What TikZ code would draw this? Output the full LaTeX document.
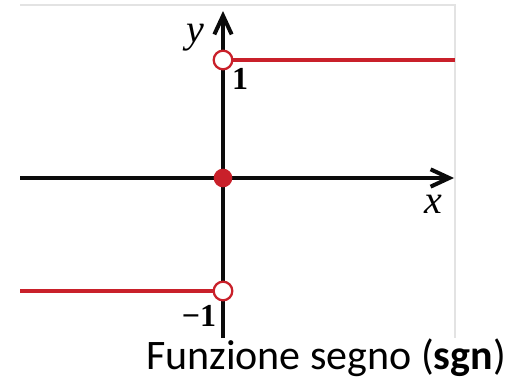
\documentclass[tikz,border=0pt]{standalone}
\usepackage{fontspec}
\setmainfont{Liberation Serif}
\newfontfamily\captionfont{Carlito}
\usetikzlibrary{positioning,arrows.meta}
\definecolor{ink}{HTML}{0B0B0B}
\definecolor{signred}{HTML}{C9202A}
\definecolor{framegray}{HTML}{E3E3E3}

\begin{document}
\begin{tikzpicture}[x=0.75pt, y=-0.75pt,
      axis/.style={line width=3pt, color=ink,
                   -{Straight Barb[length=14pt, width=13pt]}},
      branch/.style={line width=2.6pt, color=signred},
      hole/.style={circle, draw=signred, fill=white, line width=1.7pt,
                   minimum size=14pt, inner sep=0pt},
      dot/.style={circle, fill=signred, minimum size=14pt, inner sep=0pt},
      tick/.style={font=\fontsize{24}{24}\selectfont\bfseries, inner sep=0pt},
      axlabel/.style={font=\fontsize{30}{30}\selectfont\itshape, inner sep=0pt},
    ]
      \useasboundingbox (0,0) rectangle (514,381);
      % frame of the plot
      \draw[framegray, line width=0.8pt] (20,5) -- (455,5) -- (455,338);
      % axes
      \coordinate (O) at (223,178);
      \coordinate (xl) at (20,178);
      \coordinate (xr) at (454,178);
      \coordinate (yb) at (223,338);
      \coordinate (yt) at (223,11);
      \draw[axis] (xl) -- (xr);
      \draw[axis] (yb) -- (yt);
      % the two branches
      \coordinate (ur) at (455,60);
      \coordinate (ll) at (20,291);
      \node[hole] (up) at (223,60) {};
      \node[hole] (lo) at (223,291) {};
      \node[dot] (zero) at (O) {};
      \draw[branch] (up) -- (ur);
      \draw[branch] (ll) -- (lo);
      % labels
      \node[axlabel] (ylab) at (195,38) {y};
      \node[axlabel] (xlab) at (433,204) {x};
      \node[tick] (one) at (240,79) {1};
      \node[tick] (mone) at (199,316) {−1};
      \node[font=\captionfont\fontsize{31.5}{32}\selectfont, inner sep=0pt]
        (cap) at (326,358) {Funzione segno (\textbf{sgn})};
    \end{tikzpicture}
\end{document}
